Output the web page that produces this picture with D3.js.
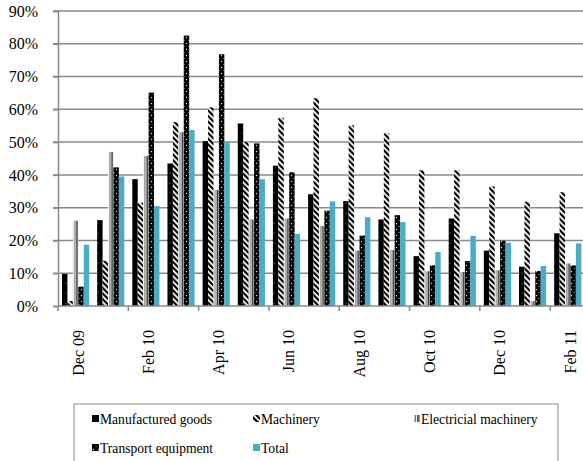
<!DOCTYPE html>
<html>
<head>
<meta charset="utf-8">
<script src="https://cdn.jsdelivr.net/npm/d3@7"></script>
<style>
  html, body { margin: 0; padding: 0; background: #fff; }
  svg text { font-family: "Liberation Serif", "Times New Roman", Tinos, "DejaVu Serif", serif !important; }
</style>
</head>
<body>
<svg id="chart" width="583" height="461"></svg>
<script>
const months = ["Dec 09","Jan 10","Feb 10","Mar 10","Apr 10","May 10","Jun 10","Jul 10","Aug 10","Sep 10","Oct 10","Nov 10","Dec 10","Jan 11","Feb 11"];
const tickLabels = ["Dec 09","Feb 10","Apr 10","Jun 10","Aug 10","Oct 10","Dec 10","Feb 11"];
const seriesNames = ["Manufactured goods","Machinery","Electricial machinery","Transport equipment","Total"];
const manufactured = [9.8, 26.2, 38.7, 43.5, 50.3, 55.7, 42.8, 34.1, 32.0, 26.4, 15.2, 26.7, 16.9, 12.0, 22.2];
const machinery    = [1.5, 13.8, 31.5, 56.1, 60.6, 50.0, 57.4, 63.4, 55.1, 52.7, 41.4, 41.4, 36.5, 31.8, 34.7];
const electrical   = [26.0, 47.0, 45.8, 53.0, 35.4, 26.4, 26.7, 24.4, 16.9, 17.1, 10.6, 10.4, 10.9, 1.5, 13.0];
const transport    = [5.9, 42.3, 65.1, 82.5, 76.8, 49.6, 40.8, 29.1, 21.5, 27.7, 12.4, 13.7, 19.9, 10.7, 12.4];
const total        = [18.7, 39.5, 30.5, 53.7, 50.0, 38.7, 22.0, 31.9, 27.1, 25.6, 16.5, 21.4, 19.3, 12.2, 19.1];
const yTicks = [0, 10, 20, 30, 40, 50, 60, 70, 80, 90];

const seriesValues = [manufactured, machinery, electrical, transport, total];
const fills = ["url(#pManu)", "url(#pMach)", "url(#pElec)", "url(#pTrans)", "#4BACC6"];

const svg = d3.select("#chart");
const defs = svg.append("defs");

// Manufactured goods: black with sparse tiny dots
let p = defs.append("pattern").attr("id","pManu").attr("patternUnits","userSpaceOnUse").attr("width",8).attr("height",10);
p.append("rect").attr("width",8).attr("height",10).attr("fill","#000");
p.append("circle").attr("cx",2).attr("cy",3).attr("r",0.6).attr("fill","#999");
// Machinery: diagonal stripes
p = defs.append("pattern").attr("id","pMach").attr("patternUnits","userSpaceOnUse").attr("width",4).attr("height",4).attr("patternTransform","rotate(-45)");
p.append("rect").attr("width",4).attr("height",4).attr("fill","#fff");
p.append("rect").attr("width",2.2).attr("height",4).attr("fill","#000");
// Electrical: vertical stripes
p = defs.append("pattern").attr("id","pElec").attr("patternUnits","objectBoundingBox").attr("patternContentUnits","objectBoundingBox").attr("width",1).attr("height",1);
p.append("rect").attr("width",1).attr("height",1).attr("fill","#fff");
p.append("rect").attr("x",0.22).attr("width",0.2).attr("height",1).attr("fill","#777");
p.append("rect").attr("x",0.6).attr("width",0.22).attr("height",1).attr("fill","#222");
p.append("rect").attr("x",0.82).attr("width",0.18).attr("height",1).attr("fill","#999");
// Transport: black with white dots
p = defs.append("pattern").attr("id","pTrans").attr("patternUnits","userSpaceOnUse").attr("width",5).attr("height",6);
p.append("rect").attr("width",5).attr("height",6).attr("fill","#000");
p.append("circle").attr("cx",1.5).attr("cy",1.5).attr("r",0.7).attr("fill","#ddd");
p.append("circle").attr("cx",4).attr("cy",4.5).attr("r",0.6).attr("fill","#bbb");

const plotLeft = 58, plotRight = 585.3, plotTop = 11, plotBottom = 306;
const x0 = d3.scaleBand().domain(months).range([plotLeft, plotRight]).padding(0);
const x1 = d3.scaleBand().domain(seriesNames).range([4, x0.bandwidth() - 4]).padding(0);
const y = d3.scaleLinear().domain([0, 90]).range([plotBottom, plotTop]);

// gridlines
svg.append("g").selectAll("line").data(yTicks.filter(d => d > 0)).join("line")
  .attr("x1", plotLeft - 5).attr("x2", 583).attr("y1", d => y(d)).attr("y2", d => y(d))
  .attr("stroke", "#8a8a8a").attr("stroke-width", 1.5);

// bars
const gBars = svg.append("g");
seriesValues.forEach((vals, si) => {
  gBars.append("g").selectAll("rect").data(vals).join("rect")
    .attr("x", (d, i) => x0(months[i]) + x1(seriesNames[si]))
    .attr("width", x1.bandwidth())
    .attr("y", d => y(d))
    .attr("height", d => plotBottom - y(d))
    .attr("fill", fills[si]);
});

// y axis
const yAxis = d3.axisLeft(y).tickValues(yTicks).tickFormat(d => d + "%").tickSize(5).tickPadding(15);
const gy = svg.append("g").attr("transform", `translate(${plotLeft},0)`).call(yAxis);
gy.attr("font-family", null).attr("font-size", null);
gy.select(".domain").attr("stroke", "#8a8a8a").attr("stroke-width", 1.5);
gy.selectAll(".tick line").attr("stroke", "#8a8a8a").attr("stroke-width", 1.5);
gy.selectAll("text").attr("font-size", 16).attr("fill", "#000");

// x axis line and ticks
svg.append("line").attr("x1", plotLeft).attr("x2", 583).attr("y1", plotBottom).attr("y2", plotBottom)
  .attr("stroke", "#8a8a8a").attr("stroke-width", 1.5);
const tickPos = months.filter((m, i) => i % 2 === 0).map(m => x0(m));
svg.append("g").selectAll("line").data(tickPos).join("line")
  .attr("x1", d => d).attr("x2", d => d).attr("y1", plotBottom).attr("y2", plotBottom + 5)
  .attr("stroke", "#8a8a8a").attr("stroke-width", 1.5);
svg.append("g").selectAll("text").data(tickLabels).join("text")
  .attr("transform", d => `translate(${x0(d) + x0.bandwidth() / 2 + 8},330) rotate(-90)`)
  .attr("text-anchor", "end")
  .attr("font-size", 16)
  .text(d => d);

// legend
svg.append("rect").attr("x", 74).attr("y", 404).attr("width", 484).attr("height", 80)
  .attr("fill", "none").attr("stroke", "#8a8a8a").attr("stroke-width", 1);
const legendPos = [[92, 419], [253, 419], [413, 419], [92, 448], [253, 448]];
const legendFills = ["#000", "url(#pMach)", "url(#pElec)", "url(#pTrans)", "#4BACC6"];
const lg = svg.append("g").selectAll("g").data(seriesNames).join("g")
  .attr("transform", (d, i) => `translate(${legendPos[i][0]},${legendPos[i][1]})`);
lg.append("rect").attr("x", 0).attr("y", -4).attr("width", 7).attr("height", 7)
  .attr("fill", (d, i) => legendFills[i]);
lg.append("text").attr("x", 8).attr("y", 5).attr("font-size", 13.6).text(d => d);
</script>
</body>
</html>
